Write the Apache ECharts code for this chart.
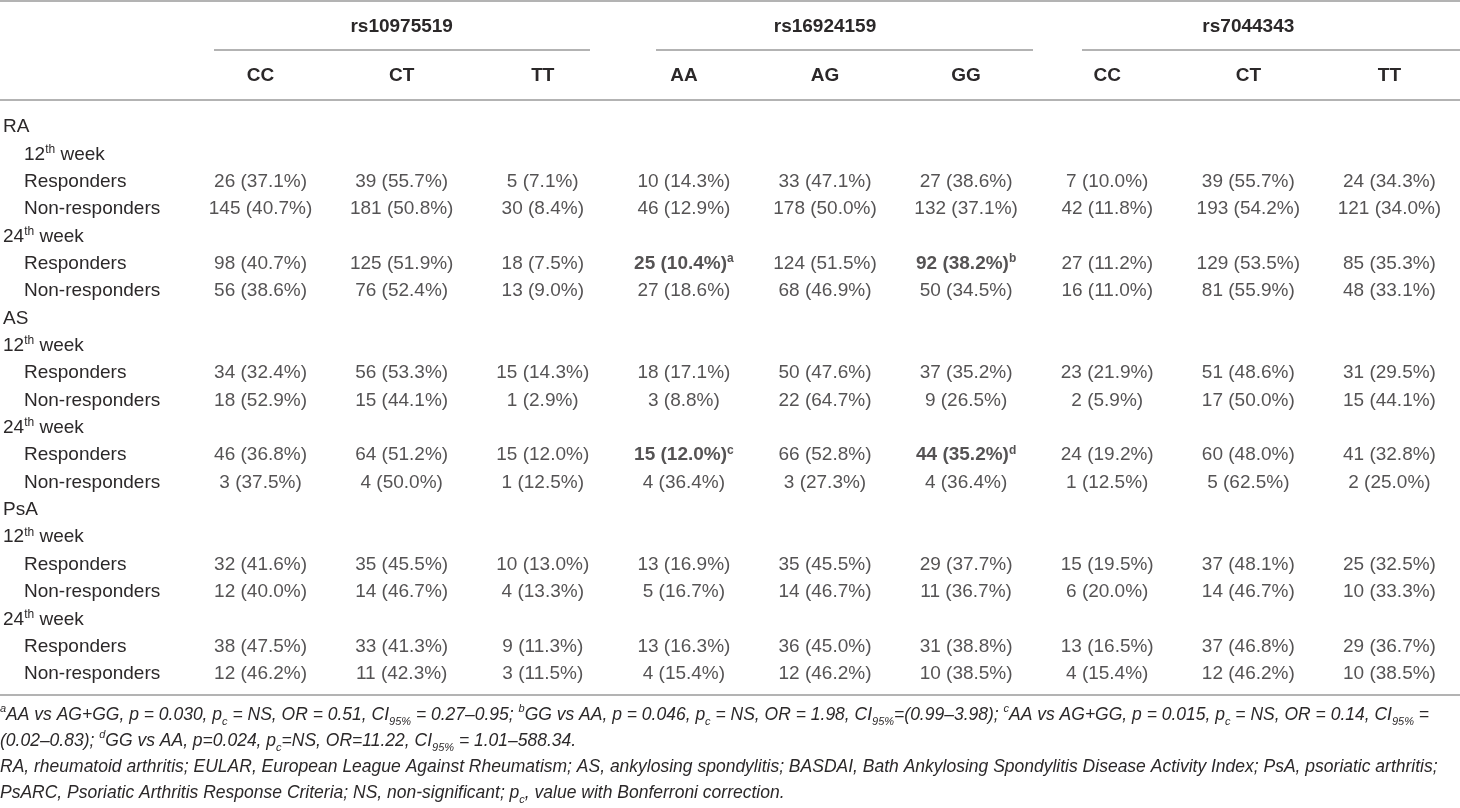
<!DOCTYPE html>
<html>
<head>
<meta charset="utf-8">
<script src="https://cdn.jsdelivr.net/npm/echarts@6/dist/echarts.min.js"></script>
<style>
html,body{margin:0;padding:0;background:#fff}
#chart{width:1460px;height:808px}
</style>
</head>
<body>
<div id="chart"></div>
<script>
// 表头
var snps = ['rs10975519', 'rs16924159', 'rs7044343'];
var genotypes = ['CC', 'CT', 'TT', 'AA', 'AG', 'GG', 'CC', 'CT', 'TT'];

// 行标题 (0 = 不缩进, 1 = 缩进)
var rowLabels = ['RA', '12th week', 'Responders', 'Non-responders', '24th week', 'Responders', 'Non-responders',
    'AS', '12th week', 'Responders', 'Non-responders', '24th week', 'Responders', 'Non-responders',
    'PsA', '12th week', 'Responders', 'Non-responders', '24th week', 'Responders', 'Non-responders'];
var rowIndent = [0, 1, 1, 1, 0, 1, 1, 0, 0, 1, 1, 0, 1, 1, 0, 0, 1, 1, 0, 1, 1];

// 每行: [n, %]
var raW12Resp = [[26, 37.1], [39, 55.7], [5, 7.1], [10, 14.3], [33, 47.1], [27, 38.6], [7, 10.0], [39, 55.7], [24, 34.3]];
var raW12Non = [[145, 40.7], [181, 50.8], [30, 8.4], [46, 12.9], [178, 50.0], [132, 37.1], [42, 11.8], [193, 54.2], [121, 34.0]];
var raW24Resp = [[98, 40.7], [125, 51.9], [18, 7.5], [25, 10.4], [124, 51.5], [92, 38.2], [27, 11.2], [129, 53.5], [85, 35.3]];
var raW24Non = [[56, 38.6], [76, 52.4], [13, 9.0], [27, 18.6], [68, 46.9], [50, 34.5], [16, 11.0], [81, 55.9], [48, 33.1]];
var asW12Resp = [[34, 32.4], [56, 53.3], [15, 14.3], [18, 17.1], [50, 47.6], [37, 35.2], [23, 21.9], [51, 48.6], [31, 29.5]];
var asW12Non = [[18, 52.9], [15, 44.1], [1, 2.9], [3, 8.8], [22, 64.7], [9, 26.5], [2, 5.9], [17, 50.0], [15, 44.1]];
var asW24Resp = [[46, 36.8], [64, 51.2], [15, 12.0], [15, 12.0], [66, 52.8], [44, 35.2], [24, 19.2], [60, 48.0], [41, 32.8]];
var asW24Non = [[3, 37.5], [4, 50.0], [1, 12.5], [4, 36.4], [3, 27.3], [4, 36.4], [1, 12.5], [5, 62.5], [2, 25.0]];
var psaW12Resp = [[32, 41.6], [35, 45.5], [10, 13.0], [13, 16.9], [35, 45.5], [29, 37.7], [15, 19.5], [37, 48.1], [25, 32.5]];
var psaW12Non = [[12, 40.0], [14, 46.7], [4, 13.3], [5, 16.7], [14, 46.7], [11, 36.7], [6, 20.0], [14, 46.7], [10, 33.3]];
var psaW24Resp = [[38, 47.5], [33, 41.3], [9, 11.3], [13, 16.3], [36, 45.0], [31, 38.8], [13, 16.5], [37, 46.8], [29, 36.7]];
var psaW24Non = [[12, 46.2], [11, 42.3], [3, 11.5], [4, 15.4], [12, 46.2], [10, 38.5], [4, 15.4], [12, 46.2], [10, 38.5]];

var dataRows = [[2, raW12Resp], [3, raW12Non], [5, raW24Resp], [6, raW24Non],
    [9, asW12Resp], [10, asW12Non], [12, asW24Resp], [13, asW24Non],
    [16, psaW12Resp], [17, psaW12Non], [19, psaW24Resp], [20, psaW24Non]];

// 显著结果: [行, 列, 脚注]
var flagged = [[5, 3, 'a'], [5, 5, 'b'], [12, 3, 'c'], [12, 5, 'd']];

var footnotes = [
    '{sup|a}{i|AA vs AG+GG, p = 0.030, p}{sub|c}{i| = NS, OR = 0.51, CI}{sub|95%}{i| = 0.27–0.95; }{sup|b}{i|GG vs AA, p = 0.046, p}{sub|c}{i| = NS, OR = 1.98, CI}{sub|95%}{i|=(0.99–3.98); }{sup|c}{i|AA vs AG+GG, p = 0.015, p}{sub|c}{i| = NS, OR = 0.14, CI}{sub|95%}{i| =}',
    '{i|(0.02–0.83); }{sup|d}{i|GG vs AA, p=0.024, p}{sub|c}{i|=NS, OR=11.22, CI}{sub|95%}{i| = 1.01–588.34.}',
    '{i|RA, rheumatoid arthritis; EULAR, European League Against Rheumatism; AS, ankylosing spondylitis; BASDAI, Bath Ankylosing Spondylitis Disease Activity Index; PsA, psoriatic arthritis;}',
    '{i|PsARC, Psoriatic Arthritis Response Criteria; NS, non-significant; p}{sub|c}{i|, value with Bonferroni correction.}'
];

// 布局
var font = 'Liberation Sans, Arial, sans-serif';
var ink = '#2b2829';
var rule = '#9a9a9a';
var gLeft = 186, gTop = 113.3, gWidth = 1287, gHeight = 574.4;

var cells = [];
dataRows.forEach(function (r) {
    r[1].forEach(function (v, c) {
        var mark = '';
        flagged.forEach(function (f) { if (f[0] === r[0] && f[1] === c) mark = f[2]; });
        cells.push({ value: [c, r[0], v[0], v[1]], mark: mark });
    });
});

var fn = { fontFamily: font, fontStyle: 'italic', fontWeight: 'normal', color: ink };

var chart = echarts.init(document.getElementById('chart'));
chart.setOption({
    animation: false,
    backgroundColor: '#fff',
    title: {
        left: 0, top: 702, padding: 0,
        text: footnotes.join('\n'),
        textStyle: {
            fontWeight: 'normal', lineHeight: 26,
            rich: {
                i: echarts.util.extend({ fontSize: 17.5, lineHeight: 26 }, fn),
                sup: echarts.util.extend({ fontSize: 11, verticalAlign: 'top', padding: [1, 0, 0, 0] }, fn),
                sub: echarts.util.extend({ fontSize: 11, verticalAlign: 'bottom', padding: [0, 0, 1, 0] }, fn)
            }
        }
    },
    grid: { left: gLeft, top: gTop, width: gWidth, height: gHeight },
    xAxis: [{
        type: 'category', position: 'top',
        data: genotypes.map(function (g, i) { return 'g' + i; }),
        axisLine: { show: false }, axisTick: { show: false }, splitLine: { show: false },
        axisLabel: {
            interval: 0, margin: gTop - 76, verticalAlign: 'middle',
            fontFamily: font, fontSize: 19, fontWeight: 'bold', color: ink,
            formatter: function (v, i) { return genotypes[i]; }
        }
    }, {
        type: 'category', position: 'top',
        data: snps,
        axisLine: { show: false }, axisTick: { show: false }, splitLine: { show: false },
        axisLabel: {
            interval: 0, margin: gTop - 27, verticalAlign: 'middle',
            fontFamily: font, fontSize: 19, fontWeight: 'bold', color: ink
        }
    }],
    yAxis: {
        type: 'category', inverse: true,
        data: rowLabels.map(function (l, i) { return 'r' + i; }),
        axisLine: { show: false }, axisTick: { show: false }, splitLine: { show: false },
        axisLabel: {
            interval: 0, margin: gLeft + 1, align: 'left',
            formatter: function (v, i) {
                var head = rowIndent[i] ? 'xi' : 'x';
                var m = rowLabels[i].match(/^(\d+)th (.*)$/);
                if (m) return '{' + head + '|' + m[1] + '}{s|th}{x| ' + m[2] + '}';
                return '{' + head + '|' + rowLabels[i] + '}';
            },
            rich: {
                x: { fontFamily: font, fontSize: 19, color: ink, lineHeight: 22 },
                xi: { fontFamily: font, fontSize: 19, color: ink, lineHeight: 22, padding: [0, 0, 0, 21] },
                s: { fontFamily: font, fontSize: 12, color: ink, verticalAlign: 'top' }
            }
        }
    },
    series: [{
        type: 'scatter',
        symbolSize: 0,
        silent: true,
        data: cells,
        label: {
            show: true, position: 'inside',
            formatter: function (p) {
                var txt = p.value[2] + ' (' + p.value[3].toFixed(1) + '%)';
                if (p.data.mark) return '{b|' + txt + '}{bs|' + p.data.mark + '}';
                return '{n|' + txt + '}';
            },
            rich: {
                n: { fontFamily: font, fontSize: 19, color: ink, lineHeight: 22 },
                b: { fontFamily: font, fontSize: 19, fontWeight: 'bold', color: ink, lineHeight: 22 },
                bs: { fontFamily: font, fontSize: 12, fontWeight: 'bold', color: ink, verticalAlign: 'top' }
            }
        }
    }],
    graphic: [
        { type: 'line', shape: { x1: 0, y1: 1, x2: 1460, y2: 1 }, style: { stroke: rule, lineWidth: 1.5 } },
        { type: 'line', shape: { x1: 214, y1: 50, x2: 590, y2: 50 }, style: { stroke: rule, lineWidth: 1.5 } },
        { type: 'line', shape: { x1: 656, y1: 50, x2: 1033, y2: 50 }, style: { stroke: rule, lineWidth: 1.5 } },
        { type: 'line', shape: { x1: 1082, y1: 50, x2: 1460, y2: 50 }, style: { stroke: rule, lineWidth: 1.5 } },
        { type: 'line', shape: { x1: 0, y1: 100, x2: 1460, y2: 100 }, style: { stroke: rule, lineWidth: 1.5 } },
        { type: 'line', shape: { x1: 0, y1: 695, x2: 1460, y2: 695 }, style: { stroke: rule, lineWidth: 1.5 } }
    ]
});
</script>
</body>
</html>
